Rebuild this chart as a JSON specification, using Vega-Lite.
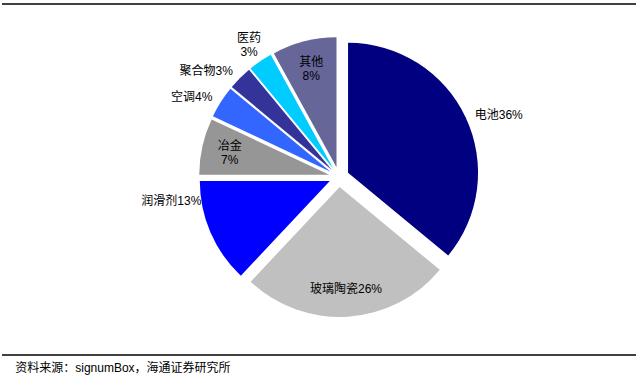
{
  "$schema": "https://vega.github.io/schema/vega-lite/v6.json",
  "width": 634,
  "height": 351,
  "autosize": {"type": "none"},
  "padding": {"left": 2, "top": 4, "right": 3, "bottom": 23},
  "background": "white",
  "config": {"view": {"stroke": null}},
  "title": {
    "text": "资料来源：signumBox，海通证券研究所",
    "orient": "bottom",
    "anchor": "start",
    "dx": 14,
    "offset": 7,
    "fontSize": 12,
    "fontWeight": "normal",
    "font": "Liberation Sans, Noto Sans CJK SC",
    "color": "#000000"
  },
  "data": {
    "values": [
      {"cat": "电池", "label": "电池36%", "pct": 36, "order": 1},
      {"cat": "玻璃陶瓷", "label": "玻璃陶瓷26%", "pct": 26, "order": 2},
      {"cat": "润滑剂", "label": "润滑剂13%", "pct": 13, "order": 3},
      {"cat": "冶金", "label": "冶金\n7%", "pct": 7, "order": 4},
      {"cat": "空调", "label": "空调4%", "pct": 4, "order": 5},
      {"cat": "聚合物", "label": "聚合物3%", "pct": 3, "order": 6},
      {"cat": "医药", "label": "医药\n3%", "pct": 3, "order": 7},
      {"cat": "其他", "label": "其他\n8%", "pct": 8, "order": 8}
    ]
  },
  "layer": [
    {
      "mark": {
        "type": "arc",
        "radius": 130,
        "xOffset": {"expr": "20 + 10*sin((datum.pct_start+datum.pct_end)*PI/100)"},
        "yOffset": {"expr": "-2.5 - 10*cos((datum.pct_start+datum.pct_end)*PI/100)"}
      },
      "encoding": {
        "theta": {"field": "pct", "type": "quantitative", "stack": true},
        "order": {"field": "order", "type": "quantitative"},
        "color": {
          "field": "cat",
          "type": "nominal",
          "scale": {
            "domain": ["电池", "玻璃陶瓷", "润滑剂", "冶金", "空调", "聚合物", "医药", "其他"],
            "range": ["#000080", "#C0C0C0", "#0000FF", "#969696", "#3366FF", "#333399", "#00CCFF", "#666699"]
          },
          "legend": null
        }
      }
    },
    {
      "mark": {
        "type": "text",
        "radius": {"expr": "indexof(['冶金','其他','玻璃陶瓷'], datum.cat) >= 0 ? 112 : (datum.cat == '医药' ? 160 : 150)"},
        "align": {"expr": "indexof(['冶金','其他','玻璃陶瓷','医药'], datum.cat) >= 0 ? 'center' : (datum.cat == '电池' ? 'left' : 'right')"},
        "dy": {"expr": "datum.cat == '润滑剂' ? -36 : (datum.cat == '电池' ? 2 : (indexof(['冶金','其他','医药'], datum.cat) >= 0 ? -7 : 0))"},
        "baseline": "middle",
        "xOffset": 20,
        "yOffset": -2.5,
        "lineBreak": "\n",
        "lineHeight": 14,
        "fontSize": 12,
        "font": "Liberation Sans, Noto Sans CJK SC",
        "color": "#000000"
      },
      "encoding": {
        "theta": {"field": "pct", "type": "quantitative", "stack": true},
        "order": {"field": "order", "type": "quantitative"},
        "text": {"field": "label", "type": "nominal"}
      }
    },
    {
      "data": {"values": [{}]},
      "mark": {"type": "rule", "color": "#000000", "strokeWidth": 1.5},
      "encoding": {"y": {"value": 0}}
    },
    {
      "data": {"values": [{}]},
      "mark": {"type": "rule", "color": "#000000", "strokeWidth": 1.5},
      "encoding": {"y": {"value": "height"}}
    }
  ]
}
